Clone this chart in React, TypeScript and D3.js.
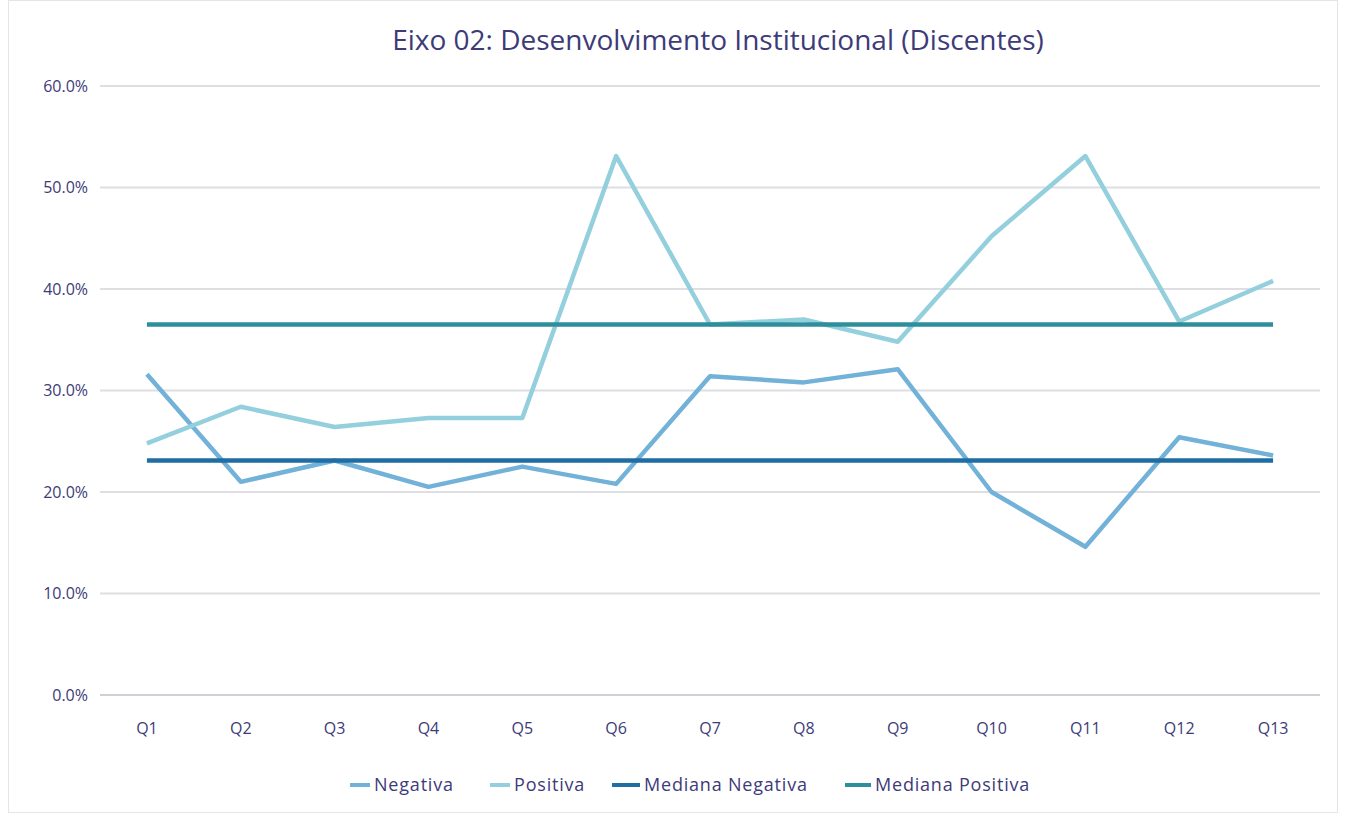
import { useEffect, useRef } from 'react';
import * as d3 from 'd3';

const questions = ['Q1', 'Q2', 'Q3', 'Q4', 'Q5', 'Q6', 'Q7', 'Q8', 'Q9', 'Q10', 'Q11', 'Q12', 'Q13'];
const negativa = [31.6, 21.0, 23.1, 20.5, 22.5, 20.8, 31.4, 30.8, 32.1, 20.0, 14.6, 25.4, 23.6];
const positiva = [24.8, 28.4, 26.4, 27.3, 27.3, 53.1, 36.5, 37.0, 34.8, 45.2, 53.1, 36.8, 40.8];
const medianaNegativa = [23.1, 23.1, 23.1, 23.1, 23.1, 23.1, 23.1, 23.1, 23.1, 23.1, 23.1, 23.1, 23.1];
const medianaPositiva = [36.5, 36.5, 36.5, 36.5, 36.5, 36.5, 36.5, 36.5, 36.5, 36.5, 36.5, 36.5, 36.5];
const yTicks = [0, 10, 20, 30, 40, 50, 60];

const seriesList = [
  { name: 'Negativa', values: negativa, color: '#72b2d8', width: 4.5 },
  { name: 'Positiva', values: positiva, color: '#93cfdc', width: 4.5 },
  { name: 'Mediana Negativa', values: medianaNegativa, color: '#1f6da3', width: 4.5 },
  { name: 'Mediana Positiva', values: medianaPositiva, color: '#2f8e9c', width: 4.5 },
];

const TEXT = '#3d3b78';
const FONT = '"Open Sans", sans-serif';

export default function App() {
  const svgRef = useRef<SVGSVGElement>(null);

  useEffect(() => {
    const svg = d3.select(svgRef.current);
    svg.selectAll('*').remove();

    const width = 1346;
    const height = 816;
    const margin = { top: 86, right: 26, bottom: 121, left: 100 };

    svg.append('rect')
      .attr('x', 8.5).attr('y', 0.5)
      .attr('width', width - 17).attr('height', height - 4)
      .attr('fill', '#fff')
      .attr('stroke', '#e4e4ea');

    const x = d3.scalePoint<string>()
      .domain(questions)
      .range([margin.left, width - margin.right])
      .padding(0.5);

    const y = d3.scaleLinear().domain([0, 60]).range([height - margin.bottom, margin.top]);

    // gridlines
    svg.append('g')
      .selectAll('line')
      .data(yTicks)
      .join('line')
      .attr('x1', margin.left)
      .attr('x2', width - margin.right)
      .attr('y1', d => y(d))
      .attr('y2', d => y(d))
      .attr('stroke', d => (d === 0 ? '#cfcfd6' : '#dedee3'))
      .attr('stroke-width', 2);

    // y labels
    svg.append('g')
      .selectAll('text')
      .data(yTicks)
      .join('text')
      .attr('x', 88)
      .attr('y', d => y(d))
      .attr('dy', '0.35em')
      .attr('text-anchor', 'end')
      .attr('font-family', FONT)
      .attr('font-size', 16)
      .attr('fill', TEXT)
      .text(d => `${d.toFixed(1)}%`);

    // x labels
    svg.append('g')
      .selectAll('text')
      .data(questions)
      .join('text')
      .attr('x', d => x(d)!)
      .attr('y', height - margin.bottom + 39)
      .attr('text-anchor', 'middle')
      .attr('font-family', FONT)
      .attr('font-size', 16)
      .attr('fill', TEXT)
      .text(d => d);

    const line = d3.line<number>()
      .x((_, i) => x(questions[i])!)
      .y(d => y(d));

    svg.append('g')
      .selectAll('path')
      .data(seriesList)
      .join('path')
      .attr('d', d => line(d.values))
      .attr('fill', 'none')
      .attr('stroke', d => d.color)
      .attr('stroke-width', d => d.width)
      .attr('stroke-linejoin', 'round');

    // title
    svg.append('text')
      .attr('x', 718)
      .attr('y', 50)
      .attr('text-anchor', 'middle')
      .attr('font-family', FONT)
      .attr('font-size', 28)
      .attr('fill', TEXT)
      .text('Eixo 02: Desenvolvimento Institucional (Discentes)');

    // legend
    const legendX = [350, 490, 612, 845];
    const swatchW = [20, 20, 28, 26];
    const lg = svg.append('g')
      .selectAll('g')
      .data(seriesList)
      .join('g')
      .attr('transform', (_, i) => `translate(${legendX[i]}, 785)`);
    lg.append('line')
      .attr('x1', 0).attr('x2', (_, i) => swatchW[i])
      .attr('stroke', d => d.color)
      .attr('stroke-width', 4);
    lg.append('text')
      .attr('x', (_, i) => swatchW[i] + 4)
      .attr('dy', '0.35em')
      .attr('font-family', FONT)
      .attr('font-size', 18)
      .attr('letter-spacing', 0.8)
      .attr('fill', TEXT)
      .text(d => d.name);
  }, []);

  return (
    <div style={{ position: 'absolute', left: 0, top: 0, background: '#fff' }}>
      <svg ref={svgRef} width={1346} height={816} style={{ display: 'block' }} />
    </div>
  );
}
